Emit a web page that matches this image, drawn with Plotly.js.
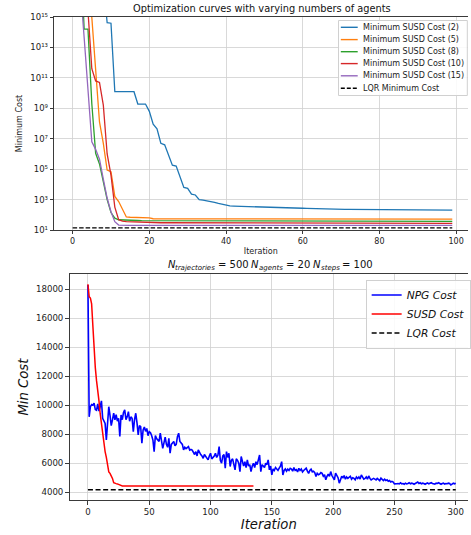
<!DOCTYPE html>
<html>
<head>
<meta charset="utf-8">
<script src="https://cdn.plot.ly/plotly-3.0.1.min.js"></script>
<style>html,body{margin:0;padding:0;background:#fff;}#chart{width:471px;height:535px;}</style>
</head>
<body>
<div id="chart"></div>
<script>
// ---------- Top chart data (iterations 0..99) ----------
const susd2 = [
3.2e19, 1.6e19, 8e18, 4e18, 2e18, 1e18, 6.3e17, 3.2e17, 1.6e17, 4.3e14,
3.9e14, 1.23e10, 1.23e10, 1.23e10, 1.23e10, 1.23e10, 1.23e10, 1.9e9, 1.9e9, 1.9e9,
6.3e8, 8.9e7, 4.5e7, 5e6, 4e6, 7.9e5, 1.8e5, 1.6e5, 3.5e4, 6.3e3,
5.5e3, 2.3e3, 2e3, 1e3, 930, 850, 760, 660, 560, 480,
440, 380, 372, 367, 363, 355, 347, 339, 331, 324,
316, 309, 302, 300, 295, 290, 285, 280, 276, 272,
269, 262, 256, 250, 244, 239, 234, 233, 232, 231,
230, 229, 229, 228, 227, 227, 226, 225, 225, 224,
224, 222, 221, 220, 219, 218, 217, 216, 215, 214,
213, 212, 211, 210, 209, 208, 207, 206, 205, 204];
const susd5 = [
1e19, 1.6e18, 2.5e17, 4e16, 6.3e15, 9.5e14, 3.5e11, 1.26e8, 5e6, 8.7e4,
6.8e4, 1.6e3, 740, 204, 72, 69, 68, 68, 68, 67,
62, 55, 54, 54, 54, 54, 53.5, 53.5, 53.5, 53.5,
53.5, 53.5, 53.5, 53.5, 53.5, 53, 53, 53, 53, 53,
53, 53, 53, 53, 53, 53, 53, 53, 53, 53,
53, 53, 53, 53, 53, 53, 53, 53, 53, 53,
53, 53, 53, 53, 53, 53, 53, 53, 53, 53,
52.5, 52.5, 52.5, 52.5, 52.5, 52.5, 52.5, 52.5, 52.5, 52.5,
52.5, 52.5, 52.5, 52.5, 52.5, 52.5, 52.5, 52.5, 52.5, 52.5,
52.5, 52.5, 52.5, 52.5, 52.5, 52.5, 52.5, 52.5, 52.5, 52.5];
const susd8 = [
1e22, 1e21, 1e20, 1.6e14, 1.6e14, 2e9, 1.1e6, 2.2e5, 1.26e4, 1e3,
141, 60, 47, 45, 44, 43, 42, 42, 41, 41,
40, 40, 40, 39, 39, 39, 39, 38, 38, 38,
38, 38, 38, 38, 38, 38, 38, 38, 38, 38,
38, 38, 38, 38, 38, 38, 38, 38, 38, 37.5,
37.5, 37.5, 37.5, 37.5, 37.5, 37.5, 37.5, 37.5, 37.5, 37.5,
37.5, 37.5, 37.5, 37.5, 37.5, 37.5, 37.5, 37.5, 37.5, 37.5,
37, 37, 37, 37, 37, 37, 37, 37, 37, 37,
37, 37, 37, 37, 37, 37, 37, 37, 37, 37,
37, 37, 37, 37, 37, 37, 37, 37, 37, 37];
const susd10 = [
1e21, 3.2e19, 1e18, 4e16, 2.5e15, 4e11, 6.3e10, 5e10, 1.6e9, 1e6,
4e4, 320, 48, 38, 35, 34, 33, 33, 32, 32,
31, 31, 31, 30, 30, 30, 30, 30, 29.5, 29.5,
29.5, 29.5, 29.5, 29.5, 29, 29, 29, 29, 29, 29,
29, 29, 29, 29, 28.5, 28.5, 28.5, 28.5, 28.5, 28.5,
28.5, 28.5, 28.5, 28.5, 28.5, 28.5, 28.5, 28.5, 28.5, 28.5,
28, 28, 28, 28, 28, 28, 28, 28, 28, 28,
28, 28, 28, 28, 28, 28, 28, 28, 28, 28,
27.5, 27.5, 27.5, 27.5, 27.5, 27.5, 27.5, 27.5, 27.5, 27.5,
27.5, 27.5, 27.5, 27.5, 27.5, 27.5, 27.5, 27.5, 27.5, 27.5];
const susd15 = [
1e20, 3.2e18, 1e17, 4.5e13, 2e10, 6.3e6, 2e6, 4.5e5, 2.2e4, 1.26e3,
158, 35, 21, 20, 20, 20, 20, 20, 20, 20,
20, 20, 20, 20, 20, 20, 20, 20, 20, 20,
20, 20, 20, 20, 20, 20, 20, 20, 20, 20,
20, 20, 20, 20, 20, 20, 20, 20, 20, 20,
20, 20, 20, 20, 20, 20, 20, 20, 20, 20,
20, 20, 20, 20, 20, 20, 20, 20, 20, 20,
20, 20, 20, 20, 20, 20, 20, 20, 20, 20,
20, 20, 20, 20, 20, 20, 20, 20, 20, 20,
20, 20, 20, 20, 20, 20, 20, 20, 20, 20];
const lqrMinCost = 14;
const topSeriesNames = ['Minimum SUSD Cost (2)', 'Minimum SUSD Cost (5)', 'Minimum SUSD Cost (8)',
                        'Minimum SUSD Cost (10)', 'Minimum SUSD Cost (15)'];
const topLqrName = 'LQR Minimum Cost';
const topTickVals = [1e1, 1e3, 1e5, 1e7, 1e9, 1e11, 1e13, 1e15];
const topTickText = ['10¹', '10³', '10⁵', '10⁷', '10⁹', '10¹¹', '10¹³', '10¹⁵'];
const topXTicks = [0, 20, 40, 60, 80, 100];

// ---------- Bottom chart data ----------
const npgCost = [
18300, 9200, 9900, 10050, 10000, 10150, 9700, 9650, 10100, 9600,
9900, 10300, 9100, 8900, 8750, 7600, 9100, 9900, 9300, 8600,
8990, 9450, 9000, 9350, 8900, 9100, 7850, 9330, 9000, 9500,
9680, 9000, 9200, 9560, 8900, 9200, 9100, 8180, 9000, 9450,
8800, 7950, 8600, 8520, 7380, 8300, 8500, 8200, 8400, 7900,
8180, 8100, 7900, 7600, 6800, 7900, 7700, 7600, 7500, 8070,
7600, 7030, 7400, 7800, 7300, 7100, 7720, 6690, 7300, 7400,
7500, 7200, 7300, 7830, 8070, 7500, 7400, 7300, 6920, 7100,
7000, 7100, 7150, 6900, 6950, 6900, 6700, 6600, 6800, 6500,
6920, 6700, 6600, 6500, 6340, 6600, 6500, 6400, 6230, 6500,
6690, 6300, 6400, 6500, 6690, 6400, 6550, 7150, 6200, 6000,
6500, 6600, 5660, 6800, 6400, 6690, 5770, 6200, 6300, 5900,
5540, 6300, 6200, 6000, 5420, 6460, 6000, 5800, 6100, 5700,
6230, 5800, 5900, 5420, 5800, 6000, 5700, 6100, 5900, 6300,
6570, 5420, 5900, 5800, 5700, 6000, 5900, 6230, 5540, 5800,
5190, 5600, 5500, 5700, 5600, 5500, 5660, 5800, 6110, 5190,
5500, 5600, 5450, 5590, 5500, 5650, 5600, 5450, 5700, 5500,
5550, 5400, 5650, 5500, 5600, 5400, 5500, 5600, 5660, 5450,
5300, 5500, 5590, 5400, 5450, 5350, 5080, 5300, 5200, 5250,
5350, 5300, 5100, 5200, 4850, 5100, 5250, 5100, 5420, 5150,
5000, 4850, 5310, 5100, 5000, 4620, 4950, 5100, 5000, 5150,
4900, 5050, 4950, 5000, 5100, 4900, 5000, 4950, 4850, 5050,
4950, 5050, 4900, 5190, 5000, 4900, 4950, 5050, 4900, 5120,
4950, 4850, 4900, 4950, 4900, 4850, 4950, 4900, 4800, 4970,
4850, 4800, 4900, 4800, 4850, 4750, 4800, 4700, 4750, 4700,
4570, 4600, 4580, 4600, 4570, 4650, 4580, 4600, 4550, 4620,
4570, 4600, 4650, 4580, 4620, 4600, 4550, 4600, 4650, 4700,
4600, 4650, 4580, 4620, 4600, 4550, 4600, 4640, 4580, 4620,
4650, 4600, 4580, 4560, 4620, 4600, 4650, 4580, 4550, 4600,
4620, 4560, 4600, 4580, 4620, 4600, 4500, 4560, 4620, 4580,
4620];
const susdCost = [
18350, 17500, 17400, 17000, 15500, 13900, 12600, 11700, 11100, 10300,
9400, 8700, 8000, 7300, 6800, 6400, 5800, 5400, 5300, 5150,
4950, 4650, 4600, 4590, 4570, 4530, 4470, 4440, 4434, 4434,
4434, 4434, 4434, 4434, 4434, 4434, 4434, 4434, 4434, 4434,
4434, 4434, 4434, 4434, 4434, 4434, 4434, 4434, 4434, 4434,
4434, 4434, 4434, 4434, 4434, 4434, 4434, 4434, 4434, 4434,
4434, 4434, 4434, 4434, 4434, 4434, 4434, 4434, 4434, 4434,
4434, 4434, 4434, 4434, 4434, 4434, 4434, 4434, 4434, 4434,
4434, 4434, 4434, 4434, 4434, 4434, 4434, 4434, 4434, 4434,
4434, 4434, 4434, 4434, 4434, 4434, 4434, 4434, 4434, 4434,
4434, 4434, 4434, 4434, 4434, 4434, 4434, 4434, 4434, 4434,
4434, 4434, 4434, 4434, 4434, 4434, 4434, 4434, 4434, 4434,
4434, 4434, 4434, 4434, 4434, 4434, 4434, 4434, 4434, 4434,
4434, 4434, 4434, 4434, 4434, 4434];
const lqrCost = 4160;
const bottomXTicks = [0, 50, 100, 150, 200, 250, 300];
const bottomYTicks = [4000, 6000, 8000, 10000, 12000, 14000, 16000, 18000];
// bottom title pieces: [text, italic, subscript]
const bottomTitleParts = [['N', true, false], ['trajectories', true, true], ['= 500', false, false],
                          ['N', true, false], ['agents', true, true], ['= 20', false, false],
                          ['N', true, false], ['steps', true, true], ['= 100', false, false]];

// ---------- Build ----------
const idx = n => Array.from({length: n}, (_, i) => i);
const topColors = ['#1f77b4', '#ff7f0e', '#2ca02c', '#d62728', '#9467bd'];
const topData = [susd2, susd5, susd8, susd10, susd15];
const itTop = idx(susd2.length);

const traces = [];
topData.forEach((ys, k) => {
  traces.push({x: itTop, y: ys, type: 'scatter', mode: 'lines', name: topSeriesNames[k],
    xaxis: 'x', yaxis: 'y', showlegend: false, line: {color: topColors[k], width: 1.3}});
});
traces.push({x: [itTop[0], itTop[itTop.length - 1]], y: [lqrMinCost, lqrMinCost], type: 'scatter', mode: 'lines',
  name: topLqrName, xaxis: 'x', yaxis: 'y', showlegend: false, line: {color: '#000', width: 1.3, dash: '4.5px,2px'}});

const itNpg = idx(npgCost.length);
const itSusd = idx(susdCost.length);
traces.push({x: itNpg, y: npgCost, type: 'scatter', mode: 'lines', name: '<i>NPG Cost</i>',
  xaxis: 'x2', yaxis: 'y2', line: {color: '#0000ff', width: 1.6}});
traces.push({x: itSusd, y: susdCost, type: 'scatter', mode: 'lines', name: '<i>SUSD Cost</i>',
  xaxis: 'x2', yaxis: 'y2', line: {color: '#ff0000', width: 1.5}});
traces.push({x: [itNpg[0], itNpg[itNpg.length - 1]], y: [lqrCost, lqrCost], type: 'scatter', mode: 'lines',
  name: '<i>LQR Cost</i>', xaxis: 'x2', yaxis: 'y2', line: {color: '#000', width: 1.5, dash: '5px,2.6px'}});

const W = 471, H = 535;
const px = v => v / W, py = v => 1 - v / H;
const grid = '#cfcfcf', spine = '#3a3a3a', txt = '#222';

// manual compact legend for the top chart
const legRows = [27.3, 39.6, 51.7, 63.6, 75.8, 88.2];
const shapes = [{type: 'rect', xref: 'paper', yref: 'paper', x0: px(340.7), x1: px(470.3), y0: py(95.5), y1: py(20.5),
  line: {color: '#d0d0d0', width: 1}, fillcolor: 'rgba(255,255,255,0.85)', layer: 'above'}];
const annotations = [];
const legNames = topSeriesNames.concat([topLqrName]);
const legColors = topColors.concat(['#000']);
legRows.forEach((yy, k) => {
  shapes.push({type: 'line', xref: 'paper', yref: 'paper', x0: px(343), x1: px(360), y0: py(yy), y1: py(yy),
    line: {color: legColors[k], width: 1.4, dash: k === 5 ? '4px,2px' : 'solid'}, layer: 'above'});
  annotations.push({xref: 'paper', yref: 'paper', x: px(363.5), y: py(yy), xanchor: 'left', yanchor: 'middle',
    text: legNames[k], showarrow: false, font: {size: 8, color: txt}});
});
annotations.push({xref: 'paper', yref: 'paper', x: px(264), y: py(8.5), xanchor: 'center', yanchor: 'middle',
  text: 'Optimization curves with varying numbers of agents', showarrow: false, font: {size: 9.8, color: '#111'}});

// bottom title laid out piecewise (math-style subscripts)
(function () {
  const ctx = document.createElement('canvas').getContext('2d');
  const mainSize = 10, subSize = 7;
  const measure = (t, it, s) => { ctx.font = (it ? 'italic ' : '') + s + 'px "DejaVu Sans"'; return ctx.measureText(t).width; };
  const space = measure(' ', false, mainSize);
  const placed = [];
  let x = 0;
  bottomTitleParts.forEach((p, k) => {
    const [t, it, sub] = p;
    const s = sub ? subSize : mainSize;
    if (k > 0 && !sub) x += space;
    placed.push({t, it, sub, s, x});
    x += measure(t, it, s);
  });
  const start = 272 - x / 2;
  placed.forEach(p => {
    annotations.push({xref: 'paper', yref: 'paper', x: px(start + p.x), y: py(p.sub ? 268.3 : 265),
      xanchor: 'left', yanchor: 'middle', borderpad: 0, borderwidth: 0,
      text: p.it ? '<i>' + p.t + '</i>' : p.t, showarrow: false, font: {size: p.s, color: '#111'}});
  });
})();

const layout = {
  width: W, height: H, margin: {l: 0, r: 0, t: 0, b: 0},
  paper_bgcolor: '#fff', plot_bgcolor: '#fff',
  font: {family: 'DejaVu Sans', size: 8, color: txt},
  xaxis: {domain: [px(54), 1], range: [-4.95, 103.1], anchor: 'y', tickmode: 'array', tickvals: topXTicks,
    ticks: 'outside', ticklen: 3, tickcolor: spine, showgrid: true, gridcolor: grid, gridwidth: 0.8,
    showline: true, linecolor: spine, linewidth: 1, mirror: true, zeroline: false,
    tickfont: {size: 8, color: txt}, title: {text: 'Iteration', font: {size: 8, color: txt}, standoff: 3}},
  yaxis: {domain: [py(230), py(17)], type: 'log', range: [1, 15], anchor: 'x', tickmode: 'array',
    tickvals: topTickVals, ticktext: topTickText, ticks: 'outside', ticklen: 3, tickcolor: spine,
    showgrid: true, gridcolor: grid, gridwidth: 0.8, showline: true, linecolor: spine, linewidth: 1,
    zeroline: false, tickfont: {size: 8.5, color: txt}, title: {text: 'Minimum Cost', font: {size: 8, color: txt}, standoff: 6}},
  xaxis2: {domain: [px(70), 1], range: [-15, 310], anchor: 'y2', tickmode: 'array', tickvals: bottomXTicks,
    ticks: 'outside', ticklen: 3.5, tickcolor: spine, showgrid: true, gridcolor: grid, gridwidth: 0.8,
    showline: true, linecolor: spine, linewidth: 1, mirror: true, zeroline: false,
    tickfont: {size: 8.6, color: txt}, title: {text: '<i>Iteration</i>', font: {size: 13.2, color: '#111'}, standoff: 2}},
  yaxis2: {domain: [py(500), py(274.3)], range: [3460, 19040], anchor: 'x2', tickmode: 'array', tickvals: bottomYTicks,
    tickformat: 'd', ticks: 'outside', ticklen: 3.5, tickcolor: spine, showgrid: true, gridcolor: grid, gridwidth: 0.8,
    showline: true, linecolor: spine, linewidth: 1, zeroline: false,
    tickfont: {size: 8.6, color: txt}, title: {text: '<i>Min Cost</i>', font: {size: 13.2, color: '#111'}, standoff: 4}},
  showlegend: true,
  legend: {x: px(368), y: py(279.5), xanchor: 'left', yanchor: 'top', bgcolor: 'rgba(255,255,255,0.85)',
    bordercolor: '#d0d0d0', borderwidth: 1, font: {size: 10.7, color: '#111'}, itemwidth: 30, tracegroupgap: 0},
  shapes: shapes, annotations: annotations
};

Plotly.newPlot('chart', traces, layout, {displayModeBar: false, staticPlot: true});
</script>
</body>
</html>
